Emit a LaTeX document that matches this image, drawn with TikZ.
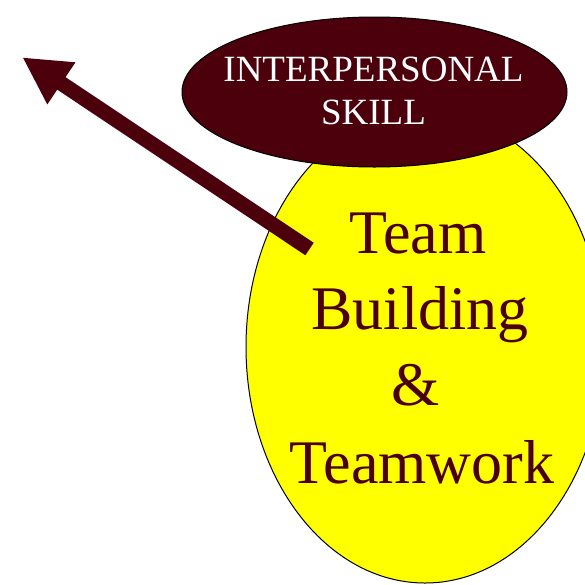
\documentclass[tikz,border=0pt]{standalone}
\usepackage{fontspec}
\setmainfont{Liberation Serif}
\usetikzlibrary{shapes.geometric,arrows.meta}
\definecolor{maroon}{RGB}{75,0,12}
\definecolor{brightyellow}{RGB}{255,255,0}
\tikzset{
  bubble/.style={ellipse, draw=black, line width=1pt, inner sep=0pt},
  headline/.style={text=white, anchor=base, inner sep=0pt,
    font=\fontsize{37}{43}\selectfont},
  bodyline/.style={text=maroon, anchor=base, inner sep=0pt,
    font=\fontsize{62}{76}\selectfont},
  pointer/.style={draw=maroon, line width=15pt,
    -{Triangle[length=47pt,width=47pt]}, fill=maroon}
}
\begin{document}
\begin{tikzpicture}[x=1pt,y=-1pt]
  \useasboundingbox (0,0) rectangle (585,584);
  \clip (0,0) rectangle (585,584);

  % topic bubble
  \node[bubble, fill=brightyellow, minimum width=358pt, minimum height=472pt]
    (topic) at (425,347) {};
  \node[bodyline] (l1) at (418,253) {Team};
  \node[bodyline] (l2) at (420,329) {Building};
  \node[bodyline] (l3) at (416,405) {\&};
  \node[bodyline] (l4) at (422,483) {Teamwork};

  % pointer out of the topic
  \coordinate (tail) at (309.5,249);
  \coordinate (tip) at (22.3,57.3);
  \draw[pointer] (tail) -- (tip);

  % category bubble
  \node[bubble, fill=maroon, minimum width=385pt, minimum height=150pt]
    (skill) at (374.5,92) {};
  \node[headline] (h1) at (373.5,81) {INTERPERSONAL};
  \node[headline] (h2) at (373.5,124) {SKILL};
\end{tikzpicture}
\end{document}
